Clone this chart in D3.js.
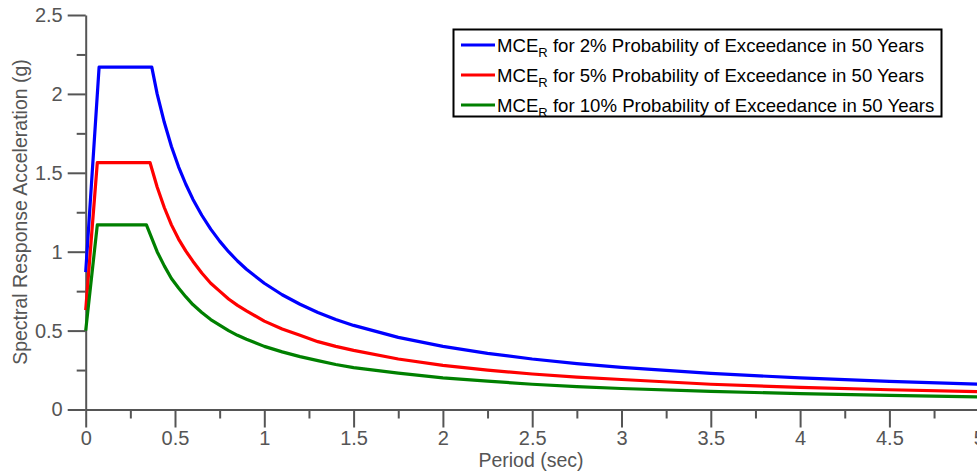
<!DOCTYPE html>
<html>
<head>
<meta charset="utf-8">
<script src="https://cdn.jsdelivr.net/npm/d3@7"></script>
<style>
  body { margin: 0; background: #fff; }
  svg { display: block; font-family: "Liberation Sans", Arial, sans-serif; }
</style>
</head>
<body>
<div id="chart"></div>
<script>
// values
const seriesNames = ["2%", "5%", "10%"];
const colors = ["#0000ff", "#ff0000", "#008000"];

const startValues = [0.87, 0.63, 0.50];        // Sa at T = 0
const plateauStart = [0.075, 0.065, 0.065];    // T0 (sec)
const plateauEnd = [0.37, 0.36, 0.34];         // Ts (sec)
const plateauValues = [2.17, 1.565, 1.17];     // SDS (g)

const tailPeriods = [0.40, 0.44, 0.48, 0.52, 0.56, 0.6, 0.65, 0.7, 0.75, 0.8, 0.85, 0.9, 1.0, 1.1, 1.2, 1.3, 1.4, 1.5, 1.75, 2, 2.25, 2.5, 2.75, 3, 3.5, 4, 4.5, 5];
const tail2 = [2.0, 1.82, 1.667, 1.538, 1.429, 1.333, 1.231, 1.143, 1.067, 1.0, 0.941, 0.889, 0.80, 0.727, 0.667, 0.615, 0.571, 0.533, 0.457, 0.40, 0.356, 0.32, 0.291, 0.267, 0.229, 0.20, 0.178, 0.16];
const tail5 = [1.41, 1.28, 1.17, 1.08, 1.005, 0.94, 0.865, 0.80, 0.75, 0.70, 0.66, 0.625, 0.56, 0.51, 0.47, 0.43, 0.40, 0.375, 0.32, 0.28, 0.25, 0.225, 0.205, 0.19, 0.16, 0.14, 0.125, 0.113];
const tail10 = [1.0, 0.91, 0.83, 0.77, 0.715, 0.665, 0.615, 0.57, 0.535, 0.50, 0.47, 0.445, 0.40, 0.365, 0.335, 0.31, 0.285, 0.265, 0.23, 0.20, 0.18, 0.16, 0.145, 0.133, 0.115, 0.10, 0.089, 0.08];
const tails = [tail2, tail5, tail10];

const xTicks = [0, 0.5, 1, 1.5, 2, 2.5, 3, 3.5, 4, 4.5, 5];
const yTicks = [0, 0.5, 1, 1.5, 2, 2.5];

const width = 977, height = 474;
const axisColor = "#555";

const svg = d3.select("#chart").append("svg")
    .attr("width", width)
    .attr("height", height);

const x = d3.scaleLinear().domain([0, 5]).range([85.7, 978.7]);
const y = d3.scaleLinear().domain([0, 2.5]).range([409.5, 15]);

const minorX = d3.range(0, 5.01, 0.25).filter(v => !xTicks.includes(v));
const minorY = d3.range(0, 2.51, 0.25).filter(v => !yTicks.includes(v));

// minor ticks
svg.append("g")
    .attr("transform", `translate(0,${y(0)})`)
    .call(d3.axisBottom(x).tickValues(minorX).tickSize(9).tickSizeOuter(0).tickFormat(""))
    .call(g => g.select(".domain").remove());
svg.append("g")
    .attr("transform", `translate(${x(0)},0)`)
    .call(d3.axisLeft(y).tickValues(minorY).tickSize(9).tickSizeOuter(0).tickFormat(""))
    .call(g => g.select(".domain").remove());

// major axes
svg.append("g")
    .attr("transform", `translate(0,${y(0)})`)
    .call(d3.axisBottom(x).tickValues(xTicks).tickSize(18).tickSizeOuter(0).tickPadding(3).tickFormat(d => String(d)));
svg.append("g")
    .attr("transform", `translate(${x(0)},0)`)
    .call(d3.axisLeft(y).tickValues(yTicks).tickSize(18).tickSizeOuter(0).tickPadding(5).tickFormat(d => String(d)));

svg.selectAll(".domain, .tick line")
    .attr("stroke", axisColor)
    .attr("stroke-width", 2);
svg.selectAll(".tick text")
    .attr("fill", axisColor)
    .style("font-size", "20px")
    .style("font-family", "'Liberation Sans', Arial, sans-serif");

// axis titles
svg.append("text")
    .attr("x", 531)
    .attr("y", 467)
    .attr("text-anchor", "middle")
    .attr("fill", axisColor)
    .style("font-size", "19.5px")
    .text("Period (sec)");

svg.append("text")
    .attr("transform", "translate(27,212) rotate(-90)")
    .attr("text-anchor", "middle")
    .attr("fill", axisColor)
    .style("font-size", "19.5px")
    .text("Spectral Response Acceleration (g)");

// curves
const line = d3.line()
    .x(d => x(d[0]))
    .y(d => y(d[1]));

const series = seriesNames.map((name, i) => {
  const pts = [[0, startValues[i]], [plateauStart[i], plateauValues[i]], [plateauEnd[i], plateauValues[i]]];
  tailPeriods.forEach((t, j) => pts.push([t, tails[i][j]]));
  return {name, color: colors[i], pts};
});

svg.append("g")
    .attr("fill", "none")
    .attr("stroke-width", 3.2)
    .attr("stroke-linejoin", "round")
  .selectAll("path")
  .data(series)
  .enter().append("path")
    .attr("stroke", d => d.color)
    .attr("d", d => line(d.pts));

// legend
const legend = svg.append("g");
legend.append("rect")
    .attr("x", 453.5)
    .attr("y", 29.5)
    .attr("width", 488)
    .attr("height", 87)
    .attr("fill", "#fff")
    .attr("stroke", "#000")
    .attr("stroke-width", 2);

const rows = legend.selectAll("g.row")
  .data(series)
  .enter().append("g")
    .attr("class", "row")
    .attr("transform", (d, i) => `translate(0,${45 + i * 30})`);

rows.append("line")
    .attr("x1", 461)
    .attr("x2", 495)
    .attr("stroke", d => d.color)
    .attr("stroke-width", 3.2);

const label = rows.append("text")
    .attr("x", 497)
    .attr("y", 6.5)
    .attr("fill", "#000")
    .style("font-size", "18.6px");
label.append("tspan").text("MCE");
label.append("tspan").attr("dy", 5).style("font-size", "13px").text("R");
label.append("tspan").attr("dy", -5).text(d => ` for ${d.name} Probability of Exceedance in 50 Years`);
</script>
</body>
</html>
